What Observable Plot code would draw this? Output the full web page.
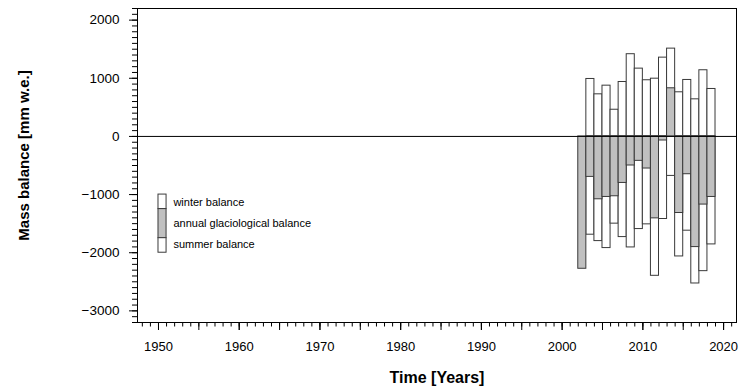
<!DOCTYPE html>
<html>
<head>
<meta charset="utf-8">
<script src="https://cdn.jsdelivr.net/npm/d3@7"></script>
<script src="https://cdn.jsdelivr.net/npm/@observablehq/plot@0.6"></script>
<style>
  html, body { margin: 0; padding: 0; background: white; }
  #chart { width: 745px; height: 389px; }
</style>
</head>
<body>
<div id="chart"></div>
<script>
// Balance years (hydrological year ending)
const years   = [2003, 2004, 2005, 2006, 2007, 2008, 2009, 2010, 2011, 2012, 2013, 2014, 2015, 2016, 2017, 2018, 2019];
const winter  = [null, 988, 724, 873, 459, 936, 1414, 1166, 966, 993, 1355, 1510, 759, 971, 638, 1138, 816];
const summer  = [null, -1690, -1800, -1920, -1500, -1731, -1909, -1593, -1512, -2397, -1420, -679, -2064, -1621, -2529, -2317, -1857];
const annual  = [-2276, -696, -1081, -1041, -1029, -800, -500, -420, -552, -1409, -70, 828, -1317, -650, -1903, -1172, -1041];

const yTickValues = [-3000, -2000, -1000, 0, 1000, 2000];
const xTickLabels = [1950, 1960, 1970, 1980, 1990, 2000, 2010, 2020];
const legendLabels = ["winter balance", "annual glaciological balance", "summer balance"];

const rows = years.map((y, i) => ({year: y, winter: winter[i], summer: summer[i], annual: annual[i]}));

const strokeC = "#3a3a3a";
const grayC = "#c0c0c0";

// legend drawn in data space (as in the original)
const legX1 = 1950, legX2 = 1951;
const legendBoxes = [
  {label: legendLabels[0], y1: -1000, y2: -1250, fill: "white", ty: -1135},
  {label: legendLabels[1], y1: -1250, y2: -1750, fill: grayC, ty: -1495},
  {label: legendLabels[2], y1: -1750, y2: -2000, fill: "white", ty: -1850}
];

const fmt = d3.format("d");
const yMinor = d3.range(-32, 23, 1).map(k => k * 100);

const chart = Plot.plot({
  width: 745,
  height: 389,
  marginLeft: 137,
  marginRight: 9,
  marginTop: 8,
  marginBottom: 67,
  style: {fontFamily: "'Liberation Sans', Arial, sans-serif", fontSize: "13px", color: "black", background: "white"},
  x: {domain: [1947.4, 2021.6]},
  y: {domain: [-3200, 2200]},
  marks: [
    // bars
    Plot.rect(rows.filter(d => d.winter != null), {x1: d => d.year - 1, x2: d => d.year, y1: 0, y2: d => d.winter, fill: "white", stroke: strokeC, strokeWidth: 1}),
    Plot.rect(rows.filter(d => d.summer != null), {x1: d => d.year - 1, x2: d => d.year, y1: 0, y2: d => d.summer, fill: "white", stroke: strokeC, strokeWidth: 1}),
    Plot.rect(rows, {x1: d => d.year - 1, x2: d => d.year, y1: 0, y2: d => d.annual, fill: grayC, stroke: strokeC, strokeWidth: 1}),
    // legend
    Plot.rect(legendBoxes, {x1: legX1, x2: legX2, y1: "y1", y2: "y2", fill: "fill", stroke: strokeC, strokeWidth: 1}),
    Plot.text(legendBoxes, {x: legX2 + 0.85, y: "ty", text: "label", textAnchor: "start", fontSize: 11, fill: "black"}),
    // zero line
    Plot.ruleY([0], {stroke: "black", strokeWidth: 1}),
    // frame
    Plot.frame({stroke: "black", strokeWidth: 1}),
    // y axis: minor ticks, major ticks with labels
    Plot.axisY(yMinor, {anchor: "left", tickSize: 5, tickFormat: () => "", label: null, stroke: "black", strokeWidth: 1}),
    Plot.axisY({ticks: yTickValues, anchor: "left", tickSize: 8, tickPadding: 10, tickFormat: fmt, fontSize: 13.5, label: null, stroke: "black", fill: "black"}),
    // x axis: minor, medium, labels
    Plot.axisX({ticks: d3.range(1948, 2022, 1), tickSize: 4.5, tickFormat: () => "", label: null, stroke: "black"}),
    Plot.axisX({ticks: d3.range(1950, 2021, 5), tickSize: 8, tickFormat: () => "", label: null, stroke: "black"}),
    Plot.axisX({ticks: xTickLabels, tickSize: 8, tickPadding: 11, tickFormat: d => String(d), label: null, stroke: "black", fill: "black"}),
    // axis titles
    Plot.text(["Time [Years]"], {frameAnchor: "bottom", textAnchor: "middle", lineAnchor: "middle", dy: 55.5, text: d => d, fontWeight: "bold", fontSize: 16, fill: "black"}),
    Plot.text(["Mass balance [mm w.e.]"], {frameAnchor: "left", textAnchor: "middle", lineAnchor: "middle", dx: -113, dy: -10, rotate: -90, text: d => d, fontWeight: "bold", fontSize: 15, fill: "black"})
  ]
});
document.getElementById("chart").appendChild(chart);
</script>
</body>
</html>
